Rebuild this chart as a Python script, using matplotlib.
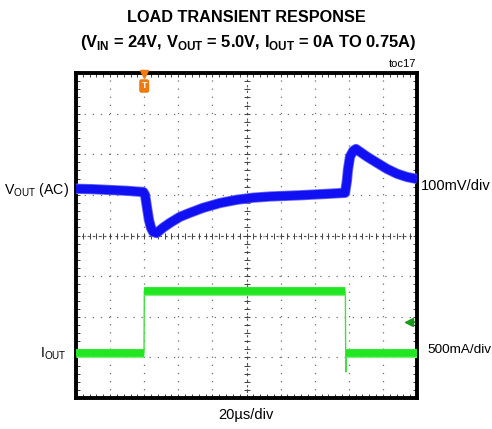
import numpy as np
import matplotlib
matplotlib.use("Agg")
import matplotlib.pyplot as plt

# ---- data (time in us, trace positions in screen divisions, 0..8 from bottom) ----
t_vout = [0, 10, 20, 30, 39.5, 40.5, 41.6, 42.8, 44.0, 45.2, 47.3, 51.0, 55.1, 61.0, 66.9,
          74.5, 84.5, 94.4, 103.8, 113.8, 131.4, 145.0, 157.8, 158.9, 159.5, 160.7, 162.5,
          164.2, 166.6, 170.7, 176.5, 182.4, 188.3, 194.1, 200]
vout_div = [5.15, 5.14, 5.12, 5.10, 5.07, 5.0, 4.70, 4.38, 4.19, 4.09, 4.06, 4.19, 4.31,
            4.46, 4.56, 4.68, 4.80, 4.88, 4.93, 4.96, 4.99, 5.02, 5.05, 5.35, 5.62, 5.94,
            6.08, 6.13, 6.06, 5.94, 5.79, 5.64, 5.52, 5.44, 5.39]

t_iout = [0, 39.9, 40.0, 40.1, 158.0, 158.1, 158.3, 158.5, 200]
iout_div = [1.1, 1.1, 2.0, 2.63, 2.63, 1.5, 0.64, 1.1, 1.1]

trigger_t = 40.0
ch2_ref_div = 1.87

title1 = "LOAD TRANSIENT RESPONSE"
title2 = r"(V$_\mathregular{IN}$ = 24V, V$_\mathregular{OUT}$ = 5.0V, I$_\mathregular{OUT}$ = 0A TO 0.75A)"

fig = plt.figure(figsize=(4.92, 4.29), dpi=100)
ax = fig.add_axes([76/492, 1-398/429, 341/492, 325/429])
ax.set_xlim(0, 200)
ax.set_ylim(0, 8)

# grid
for i in range(1, 10):
    ax.axvline(i*20, color='#707070', lw=0.9, ls=(0, (1, 5.5)), zorder=1)
for j in range(1, 8):
    ax.axhline(j, color='#707070', lw=0.9, ls=(0, (1, 5.5)), zorder=1)
# center crosshair with ticks
ax.axvline(100, color='#505050', lw=0.8, ls=(0, (2, 3)), zorder=1)
ax.axhline(4, color='#505050', lw=0.8, ls=(0, (2, 3)), zorder=1)
minor_x = np.arange(0, 200.1, 4)
minor_y = np.arange(0, 8.01, 0.2)
ax.plot(minor_x, np.full_like(minor_x, 4.0), ls='none', marker='|', ms=4, mew=0.7, color='#404040', zorder=1)
ax.plot(np.full_like(minor_y, 100.0), minor_y, ls='none', marker='_', ms=4, mew=0.7, color='#404040', zorder=1)

# border ticks
ax.set_xticks([])
ax.set_yticks([])
ax.set_xticks(minor_x, minor=True)
ax.set_yticks(minor_y, minor=True)
ax.tick_params(which='minor', direction='in', length=3, width=0.7, color='#404040',
               top=True, bottom=True, left=True, right=True, labelbottom=False, labelleft=False)
for s in ax.spines.values():
    s.set_linewidth(2.8)
    s.set_color('black')

# traces
ax.plot(t_vout, vout_div, color='#6a6af8', lw=7.4, solid_joinstyle='round', solid_capstyle='butt', zorder=3)
ax.plot(t_vout, vout_div, color='#1010f2', lw=6.2, solid_joinstyle='round', solid_capstyle='butt', zorder=3)

ax.plot(t_iout, iout_div, color='#40e040', lw=1.0, zorder=3)
i_thick = np.array(iout_div, dtype=float)
t_arr = np.array(t_iout)
flat = [(t_arr <= 39.9), (t_arr >= 40.1) & (t_arr <= 158.0), (t_arr >= 158.5)]
for m in flat:
    ax.plot(t_arr[m], i_thick[m], color='#7af07a', lw=6.6, solid_capstyle='butt', zorder=3)
    ax.plot(t_arr[m], i_thick[m], color='#22e622', lw=5.4, solid_capstyle='butt', zorder=3)

# trigger marker
ax.plot([trigger_t], [7.97], marker='v', ms=6, color='#f07a10', clip_on=False, zorder=5)
ax.text(trigger_t, 7.68, "T", ha='center', va='center', fontsize=6.5, color='white',
        fontweight='bold', family='Liberation Sans',
        bbox=dict(boxstyle='round,pad=0.25', fc='#f07a10', ec='none'), zorder=5)

# ch2 ref arrow
ax.plot([195.6, 198.0], [ch2_ref_div, ch2_ref_div], color='#1a9a1a', lw=1.4, zorder=5)
ax.plot([195.6], [ch2_ref_div], marker='<', ms=6, color='#1a9a1a', zorder=5)

# texts
fam = 'Liberation Sans'
fig.text(246/492, 1-17/429, title1, ha='center', va='center', fontsize=11.7,
         fontweight='bold', family=fam)
fig.text(248/492, 1-43/429, title2, ha='center', va='center', fontsize=11.9,
         fontweight='bold', family=fam)
fig.text(416/492, 1-64/429, "toc17", ha='right', va='center', fontsize=8, family=fam)
fig.text(69/492, 1-190/429, r"V$_\mathregular{OUT}$ (AC)", ha='right', va='center', fontsize=10.2, family=fam)
fig.text(67/492, 1-354/429, r"I$_\mathregular{OUT}$", ha='right', va='center', fontsize=10.2, family=fam)
fig.text(421/492, 1-186/429, "100mV/div", ha='left', va='center', fontsize=10.5, family=fam)
fig.text(427/492, 1-350/429, "500mA/div", ha='left', va='center', fontsize=9.7, family=fam)
fig.text(246/492, 1-415/429, "20µs/div", ha='center', va='center', fontsize=10.5, family=fam)

fig.savefig("out.png", dpi=100)
